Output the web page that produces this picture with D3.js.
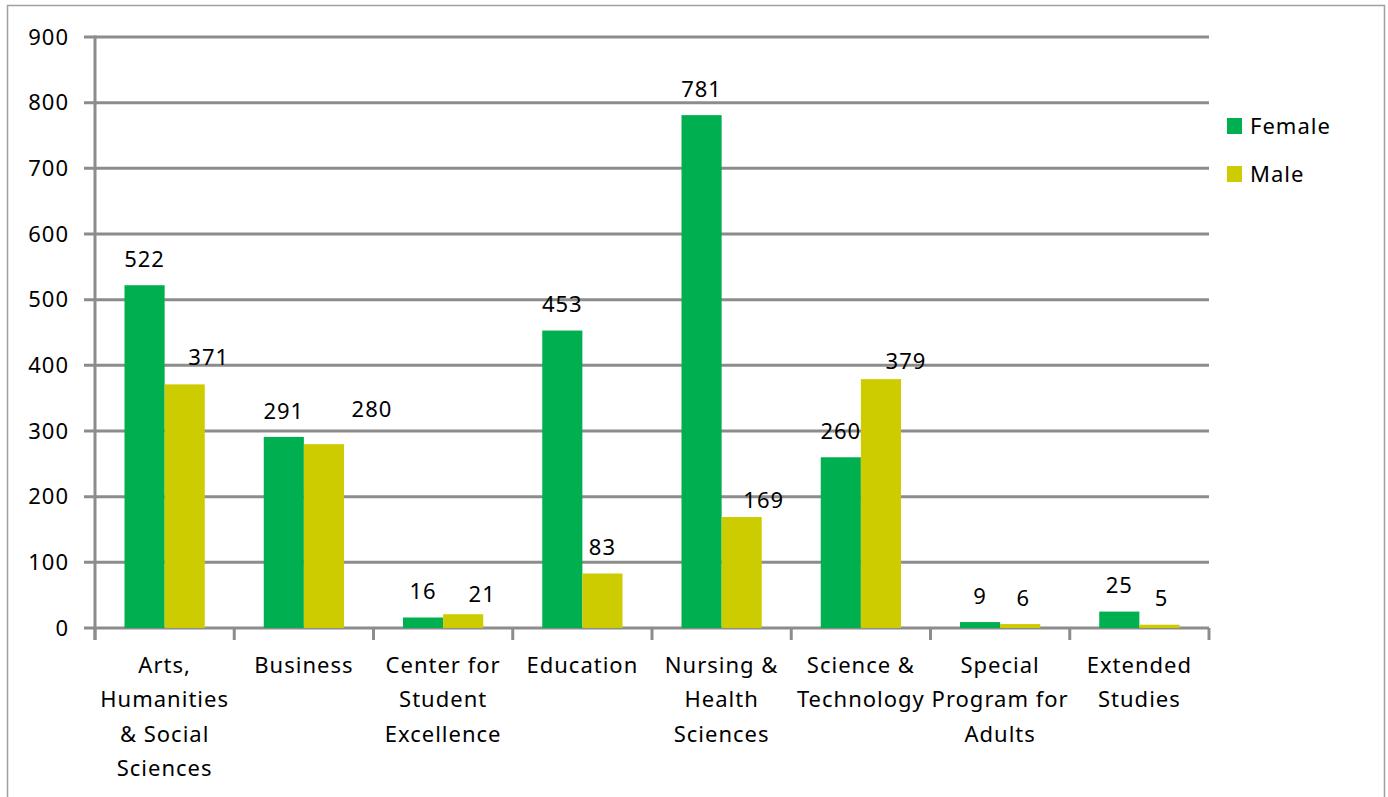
<!DOCTYPE html>
<html>
<head>
<meta charset="utf-8">
<script src="https://cdn.jsdelivr.net/npm/d3@7"></script>
<style>
  body { margin: 0; background: #fff; }
  text { font-family: "Noto Sans", sans-serif; fill: #000; font-size: 22px; letter-spacing: 1px; }
</style>
</head>
<body>
<svg width="1388" height="797"></svg>
<script>
// data
const categories = [
  "Arts,\nHumanities\n& Social\nSciences",
  "Business",
  "Center for\nStudent\nExcellence",
  "Education",
  "Nursing &\nHealth\nSciences",
  "Science &\nTechnology",
  "Special\nProgram for\nAdults",
  "Extended\nStudies"
];
const female = [522, 291, 16, 453, 781, 260, 9, 25];
const male = [371, 280, 21, 83, 169, 379, 6, 5];
const yTicks = [0, 100, 200, 300, 400, 500, 600, 700, 800, 900];

// label nudges (px) for the male data labels, as placed in the original
const maleLabelNudge = [[24, -1], [48, -9], [19, 6], [0, 0], [22, 9], [25, 8], [3, 0], [2, 0]];

const colors = { Female: "#00B050", Male: "#CCCC00" };
const gridColor = "#8c8c8c";

const svg = d3.select("svg");
const width = +svg.attr("width");
const height = +svg.attr("height");

// outer frame
svg.append("path")
  .attr("d", `M7.5,${height} V5.5 H1384.5 V${height}`)
  .attr("fill", "none")
  .attr("stroke", "#a0a0a0")
  .attr("stroke-width", 1.5);

const plotLeft = 95, plotRight = 1209, plotTop = 37, plotBottom = 628;

const x = d3.scaleBand().domain(categories).range([plotLeft, plotRight]).paddingInner(0).paddingOuter(0);
const x1 = d3.scaleBand().domain(["Female", "Male"]).range([29.5, x.bandwidth() - 29.5]);
const y = d3.scaleLinear().domain([0, 900]).range([plotBottom, plotTop]);

// gridlines
svg.append("g")
  .selectAll("line")
  .data(yTicks)
  .enter().append("line")
  .attr("x1", plotLeft - 11)
  .attr("x2", plotRight)
  .attr("y1", d => y(d))
  .attr("y2", d => y(d))
  .attr("stroke", gridColor)
  .attr("stroke-width", 3);

// y axis line
svg.append("line")
  .attr("x1", plotLeft).attr("x2", plotLeft)
  .attr("y1", plotTop - 1.5).attr("y2", plotBottom + 12)
  .attr("stroke", gridColor).attr("stroke-width", 3);

// x ticks
const xTickPos = categories.map(c => x(c)).concat([plotRight]);
svg.append("g")
  .selectAll("line")
  .data(xTickPos)
  .enter().append("line")
  .attr("x1", d => d).attr("x2", d => d)
  .attr("y1", plotBottom).attr("y2", plotBottom + 12)
  .attr("stroke", gridColor).attr("stroke-width", 3);

// y tick labels
svg.append("g")
  .selectAll("text")
  .data(yTicks)
  .enter().append("text")
  .attr("x", 69)
  .attr("y", d => y(d))
  .attr("dy", "0.35em")
  .attr("text-anchor", "end")
  .text(d => d);

// bars
const rows = categories.map((c, i) => ({ cat: c, i, values: [
  { key: "Female", value: female[i] },
  { key: "Male", value: male[i] }
]}));

const groups = svg.append("g")
  .selectAll("g")
  .data(rows)
  .enter().append("g")
  .attr("transform", d => `translate(${x(d.cat)},0)`);

groups.selectAll("rect")
  .data(d => d.values)
  .enter().append("rect")
  .attr("x", d => x1(d.key))
  .attr("width", x1.bandwidth())
  .attr("y", d => y(d.value))
  .attr("height", d => y(0) - y(d.value))
  .attr("fill", d => colors[d.key]);

// data labels
groups.selectAll("text.val")
  .data(d => d.values.map(v => ({ ...v, i: d.i })))
  .enter().append("text")
  .attr("class", "val")
  .attr("x", d => x1(d.key) + x1.bandwidth() / 2 + (d.key === "Male" ? maleLabelNudge[d.i][0] : 0))
  .attr("y", d => y(d.value) - 26 + (d.key === "Male" ? maleLabelNudge[d.i][1] : 0))
  .attr("dy", "0.35em")
  .attr("text-anchor", "middle")
  .text(d => d.value);

// category labels
const catLabels = svg.append("g")
  .selectAll("text")
  .data(categories)
  .enter().append("text")
  .attr("x", d => x(d) + x.bandwidth() / 2)
  .attr("y", 665)
  .attr("text-anchor", "middle");

catLabels.selectAll("tspan")
  .data(d => d.split("\n"))
  .enter().append("tspan")
  .attr("x", function () { return d3.select(this.parentNode).attr("x"); })
  .attr("y", (d, i) => 665 + i * 34.5)
  .attr("dy", "0.35em")
  .text(d => d);

// legend
const legend = svg.append("g")
  .selectAll("g")
  .data(["Female", "Male"])
  .enter().append("g")
  .attr("transform", (d, i) => `translate(1227,${118 + i * 48})`);

legend.append("rect")
  .attr("width", 15).attr("height", 16)
  .attr("fill", d => colors[d]);

legend.append("text")
  .attr("x", 23).attr("y", 8)
  .attr("dy", "0.35em")
  .text(d => d);
</script>
</body>
</html>
